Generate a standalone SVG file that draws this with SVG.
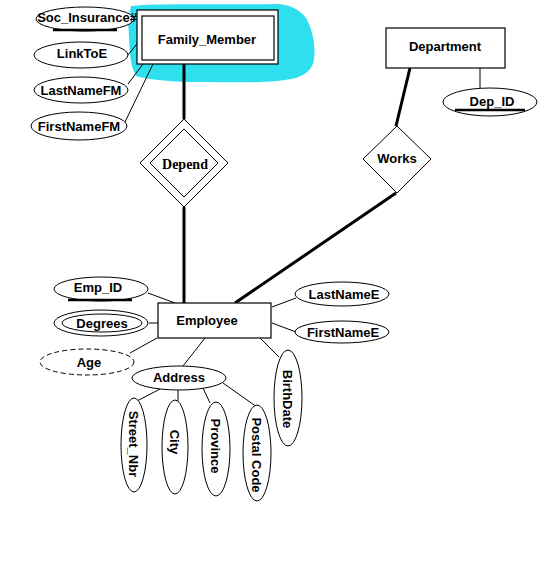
<svg xmlns="http://www.w3.org/2000/svg" width="547" height="579" viewBox="0 0 547 579">
<style>
.e{fill:#fff;stroke:#000;stroke-width:1}
.r{fill:#fff;stroke:#000;stroke-width:1.2}
.t{font-family:"Liberation Sans",Arial,sans-serif;font-weight:bold;font-size:13px;fill:#000;text-anchor:middle;dominant-baseline:central}
.s{font-family:"Liberation Serif","Times New Roman",serif;font-weight:bold;font-size:14px;fill:#000;text-anchor:middle;dominant-baseline:central}
.c{stroke:#000;stroke-width:1;fill:none}
.k{stroke:#000;stroke-width:3;fill:none}
.u{stroke:#000;stroke-width:2.5}
</style>
<rect width="547" height="579" fill="#fff"/>
<path d="M131,6 C160,3 220,5 275,4 C290,4 300,10 306,18 C312,28 316,45 314,60 C312,70 306,74 296,78 C270,84 230,82 200,82 C175,82 150,80 136,76 C128,62 130,40 128,22 Z" fill="#2ee0ee"/>
<g id="connectors">
<line class="k" x1="184" y1="64" x2="184" y2="119"/>
<line class="k" x1="184" y1="207" x2="184" y2="303"/>
<line class="k" x1="410" y1="68" x2="396" y2="126"/>
<line class="k" x1="396" y1="193" x2="235" y2="303"/>
<line class="c" x1="480" y1="68" x2="480" y2="88"/>
<line class="c" x1="128" y1="55" x2="140" y2="40"/>
<line class="c" x1="128" y1="84" x2="143" y2="64"/>
<line class="c" x1="125" y1="122" x2="153" y2="64"/>
<line class="c" x1="148" y1="293" x2="175" y2="303"/>
<line class="c" x1="149" y1="323" x2="158" y2="323"/>
<line class="c" x1="130" y1="353" x2="157" y2="338"/>
<line class="c" x1="205" y1="338" x2="183" y2="366"/>
<line class="c" x1="272" y1="307" x2="296" y2="298"/>
<line class="c" x1="272" y1="323" x2="296" y2="332"/>
<line class="c" x1="260" y1="338" x2="279" y2="357"/>
<line class="c" x1="160" y1="389" x2="137" y2="401"/>
<line class="c" x1="178" y1="390" x2="178" y2="401"/>
<line class="c" x1="203" y1="388" x2="210" y2="403"/>
<line class="c" x1="223" y1="383" x2="257" y2="407"/>
</g>
<g id="family_member">
<rect class="r" x="137" y="10" width="141" height="54"/>
<rect class="r" x="142" y="16" width="132" height="44"/>
<text class="t" x="207" y="39">Family_Member</text>
</g>
<g id="soc_insurance">
<ellipse class="e" cx="85" cy="19" rx="49" ry="12"/>
<line class="u" x1="53" y1="30" x2="117" y2="30"/>
<text class="t" x="87" y="17">Soc_Insurance#</text>
</g>
<g id="linktoe">
<ellipse class="e" cx="81" cy="55" rx="47" ry="13"/>
<text class="t" x="82" y="53">LinkToE</text>
</g>
<g id="lastnamefm">
<ellipse class="e" cx="81" cy="90" rx="47" ry="13"/>
<text class="t" x="81" y="90">LastNameFM</text>
</g>
<g id="firstnamefm">
<ellipse class="e" cx="79" cy="126" rx="48" ry="14"/>
<text class="t" x="79" y="126">FirstNameFM</text>
</g>
<g id="depend">
<polygon class="e" points="184,119 228,163 184,207 140,163"/>
<polygon class="e" points="184,129 218,163 184,197 150,163"/>
<text class="s" x="185" y="164">Depend</text>
</g>
<g id="department">
<rect class="r" x="386" y="28" width="119" height="40"/>
<text class="t" x="445" y="46">Department</text>
</g>
<g id="dep_id">
<ellipse class="e" cx="490" cy="102" rx="47" ry="14"/>
<line class="u" x1="455" y1="110" x2="525" y2="110"/>
<text class="t" x="492" y="101">Dep_ID</text>
</g>
<g id="works">
<polygon class="e" points="397,126 431,159 397,193 363,159"/>
<text class="t" x="397" y="158">Works</text>
</g>
<g id="employee">
<rect class="r" x="158" y="303" width="113" height="35"/>
<text class="t" x="207" y="320">Employee</text>
</g>
<g id="emp_id">
<ellipse class="e" cx="101" cy="289" rx="47" ry="12"/>
<line class="u" x1="68" y1="300" x2="132" y2="300"/>
<text class="t" x="98" y="287">Emp_ID</text>
</g>
<g id="degrees">
<ellipse class="e" cx="101" cy="323" rx="47" ry="13"/>
<ellipse class="e" cx="102" cy="323" rx="40" ry="9"/>
<text class="t" x="102" y="323">Degrees</text>
</g>
<g id="age">
<ellipse class="e" cx="87" cy="362" rx="47" ry="13" stroke-dasharray="5,3"/>
<text class="t" x="89" y="362">Age</text>
</g>
<g id="address">
<ellipse class="e" cx="179" cy="378" rx="47" ry="12"/>
<text class="t" x="179" y="377">Address</text>
</g>
<g id="lastnamee">
<ellipse class="e" cx="342" cy="294" rx="47" ry="12"/>
<text class="t" x="344" y="294">LastNameE</text>
</g>
<g id="firstnamee">
<ellipse class="e" cx="342" cy="332" rx="47" ry="11"/>
<text class="t" x="343" y="332">FirstNameE</text>
</g>
<g id="birthdate">
<ellipse class="e" cx="288" cy="398" rx="14" ry="48"/>
<text class="t" transform="translate(287,399) rotate(90)">BirthDate</text>
</g>
<g id="street_nbr">
<ellipse class="e" cx="134" cy="445" rx="13" ry="47"/>
<text class="t" transform="translate(133,444) rotate(90)">Street_Nbr</text>
</g>
<g id="city">
<ellipse class="e" cx="175" cy="447" rx="13" ry="47"/>
<text class="t" transform="translate(174,442) rotate(90)">City</text>
</g>
<g id="province">
<ellipse class="e" cx="216" cy="449" rx="14" ry="47"/>
<text class="t" transform="translate(215,446) rotate(90)">Province</text>
</g>
<g id="postal_code">
<ellipse class="e" cx="257" cy="453" rx="14" ry="48"/>
<text class="t" transform="translate(256,455) rotate(90)">Postal Code</text>
</g>
</svg>
